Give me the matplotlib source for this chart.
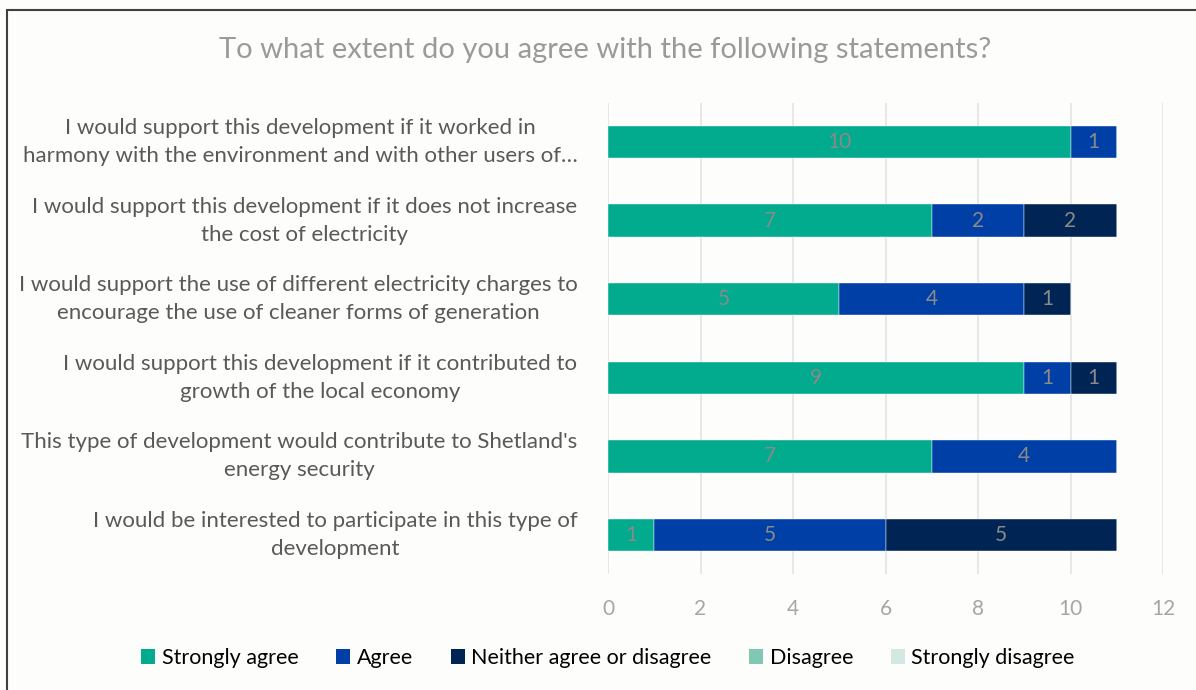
import matplotlib
matplotlib.use("Agg")
import matplotlib.pyplot as plt
from matplotlib.patches import Rectangle, Patch

plt.rcParams['font.family'] = ['Lato', 'DejaVu Sans']

statements = [
    "I would support this development if it worked in\nharmony with the environment and with other users of\u2026",
    "I would support this development if it does not increase\nthe cost of electricity",
    "I would support the use of different electricity charges to\nencourage the use of cleaner forms of generation",
    "I would support this development if it contributed to\ngrowth of the local economy",
    "This type of development would contribute to Shetland's\nenergy security",
    "I would be interested to participate in this type of\ndevelopment",
]
series_names = ["Strongly agree", "Agree", "Neither agree or disagree", "Disagree", "Strongly disagree"]
strongly_agree = [10, 7, 5, 9, 7, 1]
agree = [1, 2, 4, 1, 4, 5]
neither = [0, 2, 1, 1, 0, 5]
disagree = [0, 0, 0, 0, 0, 0]
strongly_disagree = [0, 0, 0, 0, 0, 0]
colors = ["#02aa8e", "#003fa6", "#002554", "#80c8b4", "#d3e8e2"]

W, H = 1196, 690
fig = plt.figure(figsize=(W / 100, H / 100), dpi=100)
fig.patch.set_facecolor("#fdfdfc")

# outer frame
fig.add_artist(Rectangle((7 / W, 0 - 0.01), 1.1, 1 - 10 / H + 0.01, transform=fig.transFigure,
                         fill=False, edgecolor="#404040", linewidth=1.5))

ax = fig.add_axes([608 / W, 1 - 574.3 / H, (1163 - 608) / W, (574.3 - 102.7) / H])
ax.set_facecolor("#fdfdfc")

ypos = list(range(len(statements)))
left = [0] * len(statements)
all_series = [strongly_agree, agree, neither, disagree, strongly_disagree]
for name, vals, col in zip(series_names, all_series, colors):
    bars = ax.barh(ypos, vals, left=left, height=0.41, color=col, label=name,
                   edgecolor="white", linewidth=0.3, zorder=3)
    for b, v, l in zip(bars, vals, left):
        if v > 0:
            ax.text(l + v / 2, b.get_y() + b.get_height() / 2, str(v), ha="center", va="center",
                    color="#8a8a8a", fontsize=15, zorder=4)
    left = [a + b for a, b in zip(left, vals)]

ax.set_ylim(len(statements) - 0.5, -0.5)
ax.set_xlim(0, 12)
ax.set_xticks(range(0, 13, 2))
ax.set_yticks(ypos)
ax.set_yticklabels(statements, fontsize=16, color="#595959", multialignment="center",
                   linespacing=1.5, va="center")
ax.tick_params(axis="y", length=0, pad=22)
ax.tick_params(axis="x", length=0, colors="#a6a6a6", labelsize=15, pad=18)
ax.grid(axis="x", color="#e3e3e3", linewidth=1.2, zorder=0)
for s in ax.spines.values():
    s.set_visible(False)

fig.text(605 / W, 1 - 50 / H, "To what extent do you agree with the following statements?",
         ha="center", va="center", fontsize=21, color="#9a9a9a")

handles = [Patch(facecolor=c, edgecolor="none") for c in colors]
fig.legend(handles, series_names, loc="center", bbox_to_anchor=(608 / W, 1 - 658 / H), ncol=5,
           frameon=False, fontsize=15.5, handlelength=0.65, handleheight=0.65, handletextpad=0.3,
           columnspacing=1.75, labelcolor="#000000")

fig.savefig("out.png", dpi=100, facecolor=fig.get_facecolor())
